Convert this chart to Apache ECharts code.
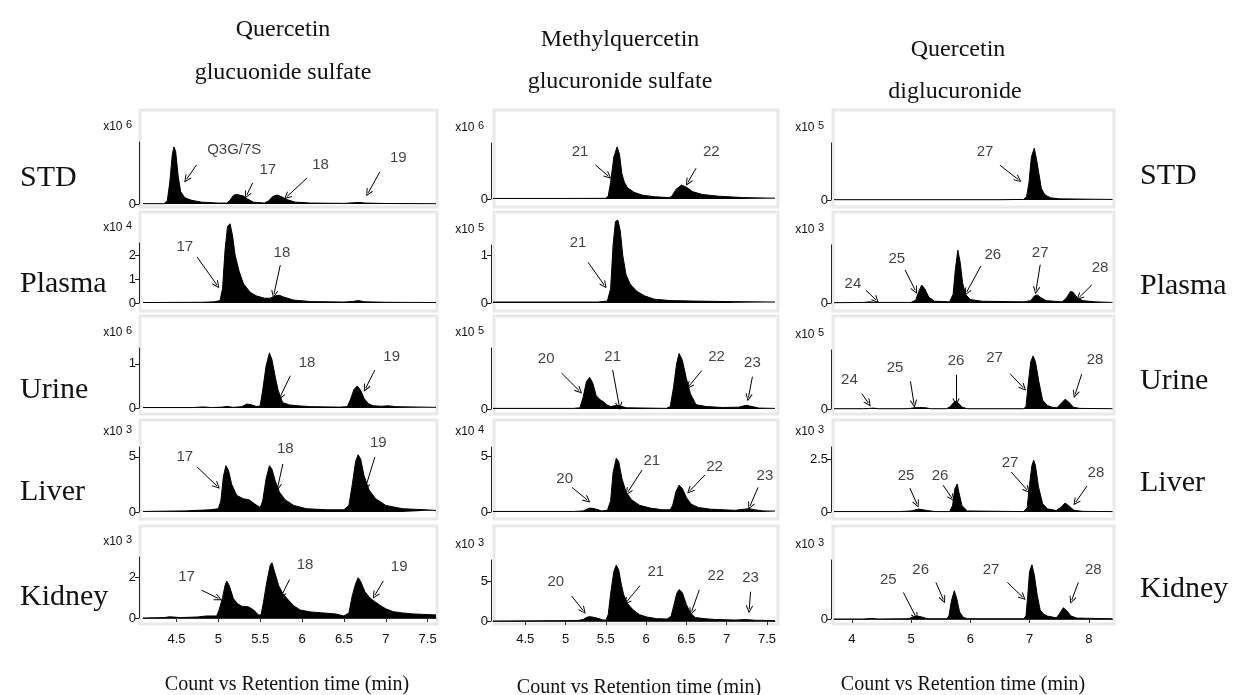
<!DOCTYPE html>
<html>
<head>
<meta charset="utf-8">
<script src="https://cdn.jsdelivr.net/npm/echarts@6/dist/echarts.min.js"></script>
<style>
html,body{margin:0;padding:0;background:#fff}
#chart{width:1238px;height:695px}
</style>
</head>
<body>
<div id="chart"></div>
<script>
// columns / rows
const colTitles = [['Quercetin', 'glucuonide sulfate'], ['Methylquercetin', 'glucuronide sulfate'], ['Quercetin', 'diglucuronide']];
const rowNames = ['STD', 'Plasma', 'Urine', 'Liver', 'Kidney'];
const xTitle = 'Count vs Retention time (min)';

// x axis (retention time, min)
const xRange = [[4.1, 7.6], [4.1, 7.6], [3.7, 8.4]];
const xTicks = [[4.5, 5, 5.5, 6, 6.5, 7, 7.5], [4.5, 5, 5.5, 6, 6.5, 7, 7.5], [4, 5, 6, 7, 8]];

// y axis: exponent of the "x10 n" label, top of the axis line, labelled ticks
const yExp = [[6, 6, 5], [4, 5, 3], [6, 5, 5], [3, 4, 3], [3, 3, 3]];
const yMax = [[1, 1, 1], [2.5, 1.21, 1], [1.36, 1, 1], [5.9, 5.8, 3.07], [3, 7.75, 1]];
const yTicks = [
  [[0], [0], [0]],
  [[0, 1, 2], [0, 1], [0]],
  [[0, 1], [0], [0]],
  [[0, 5], [0, 5], [0, 2.5]],
  [[0, 2], [0, 5], [0]]
];

// traces [time, count]
const std1 = [[4.10,0.005],[4.35,0.005],[4.39,0.05],[4.42,0.35],[4.45,0.8],[4.47,0.92],[4.49,0.85],[4.52,0.45],[4.55,0.2],[4.60,0.1],[4.68,0.06],[4.80,0.03],[5.00,0.015],[5.10,0.015],[5.14,0.06],[5.18,0.14],[5.22,0.155],[5.26,0.14],[5.30,0.13],[5.35,0.08],[5.42,0.03],[5.55,0.015],[5.60,0.05],[5.65,0.12],[5.70,0.145],[5.75,0.12],[5.82,0.07],[5.92,0.03],[6.10,0.015],[6.50,0.01],[6.62,0.02],[6.68,0.025],[6.75,0.015],[7.00,0.008],[7.60,0.005]];
const std2 = [[4.10,0.01],[5.00,0.01],[5.50,0.012],[5.53,0.05],[5.56,0.3],[5.60,0.75],[5.64,0.93],[5.67,0.8],[5.70,0.45],[5.73,0.3],[5.77,0.2],[5.85,0.12],[5.95,0.07],[6.10,0.04],[6.29,0.025],[6.32,0.05],[6.37,0.17],[6.44,0.25],[6.50,0.21],[6.58,0.13],[6.70,0.08],[6.90,0.05],[7.20,0.025],[7.60,0.015]];
const std3 = [[3.70,0.005],[6.50,0.005],[6.90,0.01],[6.95,0.06],[6.99,0.3],[7.03,0.75],[7.08,0.91],[7.12,0.7],[7.16,0.45],[7.20,0.2],[7.26,0.09],[7.35,0.04],[7.50,0.02],[8.40,0.01]];
const plasma1 = [[4.10,0.02],[4.80,0.03],[4.95,0.05],[5.02,0.1],[5.05,0.6],[5.08,2.2],[5.11,3.2],[5.14,3.3],[5.17,2.8],[5.20,2.0],[5.25,1.3],[5.30,0.8],[5.38,0.45],[5.45,0.3],[5.55,0.2],[5.62,0.2],[5.68,0.3],[5.73,0.32],[5.78,0.25],[5.90,0.12],[6.10,0.06],[6.50,0.04],[6.60,0.06],[6.67,0.1],[6.75,0.05],[7.00,0.03],[7.60,0.02]];
const plasma2 = [[4.10,0.02],[5.40,0.02],[5.52,0.04],[5.56,0.3],[5.59,1.2],[5.62,1.7],[5.65,1.73],[5.68,1.5],[5.71,1.0],[5.75,0.6],[5.80,0.4],[5.88,0.25],[5.98,0.15],[6.10,0.08],[6.30,0.05],[6.60,0.04],[7.00,0.03],[7.60,0.02]];
const plasma3 = [[3.70,0.005],[4.20,0.01],[4.30,0.02],[4.40,0.01],[5.00,0.01],[5.08,0.05],[5.13,0.2],[5.18,0.31],[5.23,0.25],[5.30,0.1],[5.40,0.03],[5.65,0.02],[5.71,0.15],[5.75,0.6],[5.79,0.91],[5.83,0.7],[5.87,0.35],[5.92,0.15],[6.00,0.06],[6.20,0.03],[6.90,0.02],[7.02,0.04],[7.08,0.12],[7.13,0.14],[7.18,0.1],[7.28,0.04],[7.55,0.02],[7.62,0.08],[7.69,0.2],[7.73,0.19],[7.80,0.1],[7.90,0.04],[8.10,0.02],[8.40,0.01]];
const urine1 = [[4.10,0.01],[4.70,0.01],[4.82,0.025],[4.92,0.01],[5.05,0.02],[5.10,0.035],[5.18,0.015],[5.28,0.03],[5.34,0.09],[5.40,0.07],[5.46,0.03],[5.50,0.05],[5.53,0.4],[5.57,0.95],[5.61,1.25],[5.64,1.1],[5.68,0.7],[5.72,0.35],[5.77,0.12],[5.85,0.07],[5.95,0.05],[6.10,0.03],[6.45,0.02],[6.54,0.03],[6.58,0.2],[6.62,0.42],[6.66,0.5],[6.70,0.4],[6.74,0.22],[6.79,0.1],[6.85,0.05],[6.95,0.04],[7.03,0.05],[7.12,0.03],[7.60,0.015]];
const urine2 = [[4.10,0.01],[5.10,0.01],[5.18,0.02],[5.22,0.2],[5.26,0.45],[5.30,0.52],[5.34,0.42],[5.38,0.22],[5.43,0.15],[5.47,0.12],[5.51,0.07],[5.56,0.04],[5.60,0.05],[5.64,0.06],[5.70,0.04],[5.76,0.02],[6.25,0.01],[6.30,0.04],[6.34,0.35],[6.38,0.75],[6.41,0.91],[6.45,0.8],[6.50,0.5],[6.55,0.25],[6.62,0.07],[6.75,0.04],[6.95,0.025],[7.15,0.03],[7.24,0.06],[7.32,0.04],[7.40,0.015],[7.60,0.01]];
const urine3 = [[3.70,0.005],[4.20,0.005],[4.30,0.01],[4.36,0.015],[4.45,0.005],[4.95,0.005],[5.05,0.02],[5.14,0.025],[5.25,0.02],[5.33,0.005],[5.60,0.005],[5.66,0.04],[5.72,0.11],[5.76,0.135],[5.80,0.1],[5.86,0.03],[5.95,0.005],[6.90,0.005],[6.94,0.04],[6.98,0.45],[7.02,0.8],[7.06,0.9],[7.10,0.8],[7.16,0.45],[7.22,0.15],[7.30,0.06],[7.38,0.03],[7.46,0.02],[7.52,0.08],[7.60,0.165],[7.66,0.12],[7.74,0.03],[7.85,0.01],[8.40,0.005]];
const liver1 = [[4.10,0.05],[4.60,0.1],[4.90,0.2],[5.00,0.3],[5.03,1.0],[5.06,3.2],[5.09,4.2],[5.12,3.8],[5.16,2.5],[5.22,1.5],[5.30,1.2],[5.37,1.1],[5.44,0.7],[5.50,0.4],[5.53,1.0],[5.57,3.0],[5.61,4.2],[5.64,3.9],[5.68,2.8],[5.73,1.8],[5.80,1.1],[5.90,0.6],[6.05,0.3],[6.30,0.2],[6.50,0.2],[6.56,0.6],[6.60,2.5],[6.64,4.6],[6.67,5.2],[6.70,4.8],[6.74,3.3],[6.80,2.0],[6.88,1.2],[7.00,0.6],[7.20,0.3],[7.60,0.15]];
const liver2 = [[4.10,0.05],[5.10,0.05],[5.22,0.1],[5.30,0.35],[5.36,0.3],[5.45,0.1],[5.52,0.15],[5.56,1.0],[5.59,3.5],[5.63,4.8],[5.66,4.5],[5.70,3.0],[5.75,1.8],[5.82,1.1],[5.92,0.6],[6.05,0.35],[6.20,0.2],[6.30,0.2],[6.33,0.6],[6.37,1.8],[6.41,2.4],[6.45,2.1],[6.50,1.3],[6.56,0.7],[6.65,0.4],[6.80,0.25],[7.10,0.15],[7.22,0.25],[7.28,0.3],[7.35,0.2],[7.45,0.1],[7.60,0.08]];
const liver3 = [[3.70,0.02],[4.80,0.02],[5.00,0.05],[5.13,0.14],[5.25,0.08],[5.40,0.02],[5.65,0.02],[5.70,0.3],[5.74,1.1],[5.78,1.32],[5.81,0.9],[5.86,0.3],[5.95,0.05],[6.90,0.02],[6.96,0.2],[7.00,1.3],[7.04,2.2],[7.07,2.45],[7.10,2.2],[7.15,1.2],[7.22,0.4],[7.30,0.15],[7.45,0.07],[7.52,0.2],[7.60,0.42],[7.66,0.3],[7.75,0.08],[7.90,0.03],[8.40,0.02]];
const kidney1 = [[4.10,0.0],[4.35,0.02],[4.42,0.06],[4.55,0.02],[4.75,0.05],[4.86,0.1],[4.98,0.1],[5.01,0.4],[5.05,1.0],[5.08,1.6],[5.10,1.82],[5.13,1.6],[5.18,0.95],[5.23,0.7],[5.28,0.58],[5.36,0.55],[5.42,0.4],[5.48,0.15],[5.51,0.15],[5.54,0.8],[5.58,1.8],[5.62,2.6],[5.64,2.72],[5.67,2.3],[5.72,1.6],[5.77,1.2],[5.82,0.96],[5.90,0.6],[5.98,0.39],[6.10,0.3],[6.22,0.26],[6.40,0.2],[6.50,0.1],[6.56,0.25],[6.60,1.1],[6.64,1.7],[6.67,1.98],[6.70,1.8],[6.75,1.3],[6.81,0.99],[6.87,0.8],[6.93,0.63],[7.00,0.45],[7.09,0.31],[7.20,0.25],[7.33,0.2],[7.60,0.15]];
const kidney2 = [[4.10,0.0],[5.15,0.05],[5.22,0.2],[5.27,0.5],[5.31,0.55],[5.38,0.4],[5.46,0.15],[5.50,0.1],[5.53,0.8],[5.56,3.5],[5.60,6.3],[5.63,7.1],[5.66,6.5],[5.69,4.8],[5.72,3.4],[5.77,2.2],[5.84,1.4],[5.92,0.8],[6.01,0.5],[6.13,0.3],[6.26,0.25],[6.31,0.6],[6.34,1.8],[6.38,3.5],[6.41,4.0],[6.45,3.6],[6.50,2.1],[6.55,1.0],[6.61,0.45],[6.72,0.3],[6.85,0.2],[7.10,0.12],[7.23,0.18],[7.35,0.1],[7.60,0.05]];
const kidney3 = [[3.70,0.0],[4.20,0.0],[4.33,0.01],[4.45,0.0],[4.95,0.005],[5.03,0.03],[5.10,0.05],[5.18,0.035],[5.27,0.005],[5.60,0.005],[5.64,0.05],[5.68,0.3],[5.73,0.48],[5.77,0.35],[5.82,0.12],[5.88,0.03],[5.95,0.005],[6.90,0.005],[6.94,0.05],[6.97,0.4],[7.00,0.8],[7.04,0.92],[7.08,0.75],[7.13,0.4],[7.18,0.15],[7.24,0.08],[7.30,0.05],[7.45,0.02],[7.50,0.08],[7.57,0.19],[7.63,0.14],[7.70,0.05],[7.80,0.015],[8.40,0.005]];

// peak labels: [text, labelT, labelY, arrowFromT, arrowFromY, arrowToT, arrowToY]
const peaksStd1 = [['Q3G/7S',5.19,0.87,4.74,0.63,4.62,0.40],['17',5.59,0.55,5.41,0.34,5.34,0.145],['18',6.22,0.63,6.06,0.42,5.82,0.12],['19',7.15,0.74,6.93,0.52,6.79,0.18]];
const peaksStd2 = [['21',5.18,0.85,5.37,0.61,5.53,0.41],['22',6.81,0.85,6.62,0.55,6.52,0.30]];
const peaksStd3 = [['27',6.25,0.85,6.50,0.61,6.81,0.36]];
const peaksPlasma1 = [['17',4.60,2.33,4.745,1.92,4.984,0.75],['18',5.76,2.08,5.74,1.58,5.665,0.375]];
const peaksPlasma2 = [['21',5.155,1.25,5.28,0.85,5.48,0.375]];
const peaksPlasma3 = [['24',4.02,0.33,4.24,0.22,4.41,0.05],['25',4.76,0.76,4.90,0.57,5.07,0.22],['26',6.38,0.83,6.18,0.64,5.94,0.19],['27',7.18,0.86,7.18,0.66,7.11,0.22],['28',8.19,0.6,8.05,0.31,7.84,0.1]];
const peaksUrine1 = [['18',6.06,1.02,5.86,0.73,5.74,0.26],['19',7.07,1.17,6.87,0.86,6.76,0.45]];
const peaksUrine2 = [['20',4.76,0.82,4.95,0.59,5.17,0.30],['21',5.585,0.86,5.585,0.64,5.667,0.05],['22',6.875,0.86,6.69,0.63,6.536,0.38],['23',7.32,0.76,7.32,0.53,7.27,0.19]];
const peaksUrine3 = [['24',3.96,0.5,4.17,0.26,4.28,0.10],['25',4.73,0.69,4.99,0.47,5.05,0.09],['26',5.76,0.81,5.76,0.58,5.76,0.12],['27',6.41,0.86,6.67,0.60,6.895,0.36],['28',8.105,0.83,7.88,0.59,7.77,0.25]];
const peaksLiver1 = [['17',4.60,5.0,4.745,4.1,4.984,2.36],['18',5.80,5.73,5.77,4.36,5.71,2.27],['19',6.91,6.27,6.87,5.0,6.76,2.27]];
const peaksLiver2 = [['20',4.99,3.0,5.08,2.2,5.27,1.07],['21',6.07,4.6,5.95,3.75,5.775,1.8],['22',6.85,4.0,6.73,3.3,6.544,1.9],['23',7.475,3.2,7.39,2.2,7.29,0.54]];
const peaksLiver3 = [['25',4.915,1.7,4.98,1.13,5.1,0.38],['26',5.49,1.7,5.54,1.27,5.69,0.66],['27',6.67,2.31,6.69,1.89,6.96,1.04],['28',8.12,1.84,7.97,1.23,7.78,0.47]];
const peaksKidney1 = [['17',4.62,2.01,4.80,1.37,5.0,0.96],['18',6.035,2.59,5.85,1.89,5.757,1.12],['19',7.16,2.5,6.97,1.82,6.87,1.12]];
const peaksKidney2 = [['20',4.88,5.0,5.076,3.18,5.22,1.31],['21',6.12,6.27,5.924,4.49,5.759,2.45],['22',6.867,5.72,6.66,3.94,6.565,1.18],['23',7.297,5.42,7.297,3.72,7.28,1.49]];
const peaksKidney3 = [['25',4.617,0.67,4.87,0.45,5.08,0.04],['26',5.163,0.84,5.42,0.62,5.545,0.33],['27',6.35,0.84,6.625,0.62,6.885,0.37],['28',8.077,0.84,7.824,0.62,7.712,0.32]];

const traces = [[std1, std2, std3], [plasma1, plasma2, plasma3], [urine1, urine2, urine3], [liver1, liver2, liver3], [kidney1, kidney2, kidney3]];
const peaks = [[peaksStd1, peaksStd2, peaksStd3], [peaksPlasma1, peaksPlasma2, peaksPlasma3], [peaksUrine1, peaksUrine2, peaksUrine3], [peaksLiver1, peaksLiver2, peaksLiver3], [peaksKidney1, peaksKidney2, peaksKidney3]];

// layout (px)
const colLeft = [143, 493, 834];
const colWidth = [293, 282, 278.5];
const yOffset = [4, 2, 3];
const xOffset = [10, 7, 9];
const panelTop = [[142, 143, 143], [243, 245, 245], [348, 348, 350], [447, 447, 447], [557, 560, 560]];
const panelZero = [[204, 199, 200], [303, 303, 303], [408, 409, 409], [512, 512, 512], [618, 621, 619]];
const boxX = [[140, 437], [494, 778], [833, 1114]];
const boxY = [[110, 207], [212, 311], [316, 414], [420, 519], [526, 624]];

const serif = '"Liberation Serif", "DejaVu Serif", serif';
const sans = '"Liberation Sans", Arial, sans-serif';
const arrowHead = 'path://M5,0L10,9L9,10L5,2.6L1,10L0,9Z';

const chart = echarts.init(document.getElementById('chart'));

const grids = [], xAxes = [], yAxes = [], series = [];
for (let r = 0; r < 5; r++) {
  for (let c = 0; c < 3; c++) {
    const i = r * 3 + c;
    grids.push({
      left: colLeft[c], top: panelTop[r][c], width: colWidth[c],
      height: panelZero[r][c] - panelTop[r][c]
    });
    xAxes.push({
      gridIndex: i, type: 'value', min: xRange[c][0], max: xRange[c][1],
      show: r === 4, position: 'bottom', offset: xOffset[c],
      axisLine: {show: true, lineStyle: {color: '#333', width: 1}},
      axisTick: {show: true, length: 4, customValues: xTicks[c], lineStyle: {color: '#333'}},
      axisLabel: {customValues: xTicks[c], color: '#111', fontSize: 13, fontFamily: sans, margin: 5},
      splitLine: {show: false}
    });
    yAxes.push({
      gridIndex: i, type: 'value', min: 0, max: yMax[r][c], offset: yOffset[c],
      name: '{a|x10 }{b|' + yExp[r][c] + '}', nameLocation: 'end', nameGap: 15,
      nameTextStyle: {
        align: 'right', verticalAlign: 'middle', padding: [0, 7, 0, 0],
        rich: {
          a: {fontSize: 12, fontFamily: sans, color: '#111', lineHeight: 16},
          b: {fontSize: 11, fontFamily: sans, color: '#111', verticalAlign: 'top', lineHeight: 16}
        }
      },
      axisLine: {show: true, lineStyle: {color: '#222', width: 1}},
      axisTick: {show: true, length: 4, customValues: yTicks[r][c], lineStyle: {color: '#222'}},
      axisLabel: {customValues: yTicks[r][c], color: '#111', fontSize: 13, fontFamily: sans, margin: 3},
      splitLine: {show: false}
    });
    const pk = peaks[r][c];
    series.push({
      type: 'line', xAxisIndex: i, yAxisIndex: i, data: traces[r][c],
      symbol: 'none', clip: false, silent: true,
      lineStyle: {color: '#000', width: 1},
      areaStyle: {color: '#000', opacity: 1},
      markLine: {
        silent: true, symbol: ['none', arrowHead], symbolSize: [7, 8],
        lineStyle: {color: '#000', width: 1, type: 'solid'},
        label: {show: false},
        data: pk.map(p => [{coord: [p[3], p[4]]}, {coord: [p[5], p[6]]}])
      }
    });
    // peak numbers
    series.push({
      type: 'scatter', xAxisIndex: i, yAxisIndex: i, clip: false, silent: true,
      symbolSize: 1, itemStyle: {color: 'rgba(0,0,0,0)'},
      label: {show: true, position: 'inside', formatter: '{b}', color: '#111', fontSize: 15, fontFamily: sans},
      data: pk.map(p => ({name: p[0], value: [p[1], p[2]]}))
    });
  }
}

const graphics = [];
for (let r = 0; r < 5; r++) {
  for (let c = 0; c < 3; c++) {
    graphics.push({
      type: 'rect', z: 0, silent: true,
      shape: {x: boxX[c][0], y: boxY[r][0], width: boxX[c][1] - boxX[c][0], height: boxY[r][1] - boxY[r][0]},
      style: {fill: 'none', stroke: '#e9e9e9', lineWidth: 3}
    });
  }
}
const titlePos = [[[283, 30], [283, 73]], [[620, 40], [620, 82]], [[958, 50], [955, 92]]];
colTitles.forEach((t, c) => {
  t.forEach((line, k) => {
    graphics.push({type: 'text', x: titlePos[c][k][0], y: titlePos[c][k][1],
      style: {text: line, font: '24px ' + serif, fill: '#111', align: 'center', verticalAlign: 'middle', textAlign: 'center', textVerticalAlign: 'middle'}});
  });
});
const rowLeftY = [178, 284, 390, 492, 597];
const rowRightY = [176, 286, 381, 483, 589];
rowNames.forEach((n, r) => {
  graphics.push({type: 'text', x: 20, y: rowLeftY[r],
    style: {text: n, font: '30px ' + serif, fill: '#111', align: 'left', verticalAlign: 'middle', textAlign: 'left', textVerticalAlign: 'middle'}});
  graphics.push({type: 'text', x: 1140, y: rowRightY[r],
    style: {text: n, font: '30px ' + serif, fill: '#111', align: 'left', verticalAlign: 'middle', textAlign: 'left', textVerticalAlign: 'middle'}});
});
const xTitlePos = [[287, 685], [639, 688], [963, 685]];
xTitlePos.forEach(p => {
  graphics.push({type: 'text', x: p[0], y: p[1],
    style: {text: xTitle, font: '20px ' + serif, fill: '#111', align: 'center', verticalAlign: 'middle', textAlign: 'center', textVerticalAlign: 'middle'}});
});

chart.setOption({
  backgroundColor: '#fff',
  animation: false,
  grid: grids,
  xAxis: xAxes,
  yAxis: yAxes,
  series: series,
  graphic: graphics
});
</script>
</body>
</html>
